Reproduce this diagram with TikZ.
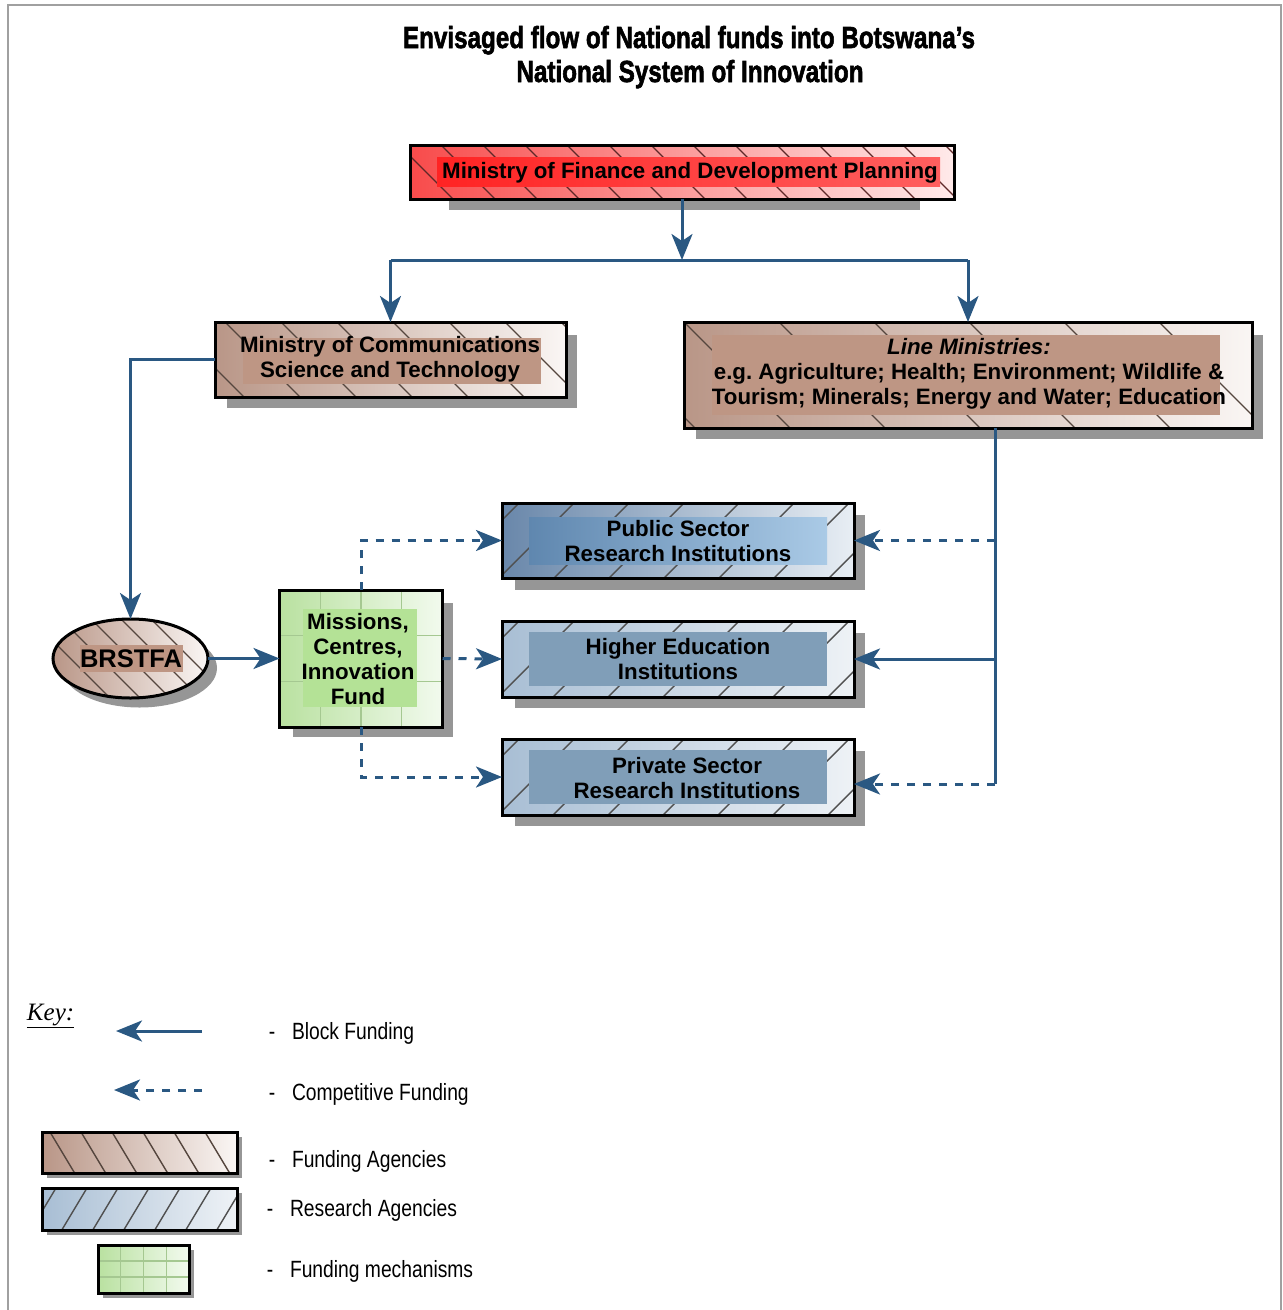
\documentclass[tikz,border=0pt]{standalone}
\usepackage{fontspec}
\usepackage{graphicx}
\usetikzlibrary{arrows.meta,calc,shapes.geometric}
\setmainfont{Liberation Sans}
\newfontfamily\boxfont{Liberation Sans}
\IfFontExistsTF{Liberation Sans Narrow}{\newfontfamily\narrowfont{Liberation Sans Narrow}\newfontfamily\titlefont{Liberation Sans Narrow}[FakeBold=2.2]}{\newfontfamily\narrowfont{Liberation Sans}[FakeStretch=0.82]\newfontfamily\titlefont{Liberation Sans}[FakeBold=2.2]}
\newfontfamily\keyserif{Liberation Serif}
\frenchspacing

\definecolor{conn}{RGB}{42,88,130}
\definecolor{shadowgray}{RGB}{150,150,150}
\definecolor{framegray}{RGB}{160,160,160}
\definecolor{mofL}{RGB}{248,75,75}
\definecolor{mofR}{RGB}{255,234,234}
\definecolor{mofbandL}{RGB}{255,35,35}
\definecolor{mofbandR}{RGB}{255,95,95}
\definecolor{mofhatch}{RGB}{95,40,40}
\definecolor{fundL}{RGB}{185,150,135}
\definecolor{fundR}{RGB}{250,246,244}
\definecolor{fundband}{RGB}{190,150,132}
\definecolor{fundhatch}{RGB}{85,70,62}
\definecolor{pubL}{RGB}{105,135,170}
\definecolor{pubR}{RGB}{232,238,244}
\definecolor{pubbandL}{RGB}{95,135,175}
\definecolor{pubbandR}{RGB}{170,202,230}
\definecolor{resL}{RGB}{168,190,212}
\definecolor{resR}{RGB}{238,242,246}
\definecolor{resband}{RGB}{128,158,184}
\definecolor{reshatch}{RGB}{80,80,80}
\definecolor{greenL}{RGB}{185,225,160}
\definecolor{greenR}{RGB}{242,250,238}
\definecolor{greenband}{RGB}{180,226,150}
\definecolor{greengridcol}{RGB}{165,200,145}

\tikzset{
  every node/.style={inner sep=0pt, outer sep=0pt},
  hsp/.store in=\hsp, hsp=40,
  hsl/.store in=\hsl, hsl=1,
  hoff/.store in=\hoff, hoff=0,
  bnd/.style n args={4}{/utils/exec={\def\bl{#1}\def\bt{#2}\def\br{#3}\def\bb{#4}}},
  bnd={0}{0}{0}{0},
  bandfill/.style={fill=fundband},
  hatchcol/.style={draw=fundhatch},
  boxbase/.style={rectangle, draw=black, line width=3pt},
  hatchdown/.style={path picture={
     \foreach \k in {-14,...,24} {
        \draw[hatchcol, line width=1.4pt] ($(path picture bounding box.north west)+(\hoff*1pt+\k*\hsp*1pt,0pt)$) -- ++(\hsl*150pt,-150pt);
     }
     \fill[bandfill] ($(path picture bounding box.north west)+(\bl*1pt,-\bt*1pt)$) rectangle ($(path picture bounding box.south east)+(-\br*1pt,\bb*1pt)$);
  }},
  hatchup/.style={path picture={
     \foreach \k in {-14,...,24} {
        \draw[hatchcol, line width=1.4pt] ($(path picture bounding box.north west)+(\hoff*1pt+\k*\hsp*1pt,0pt)$) -- ++(-\hsl*150pt,-150pt);
     }
     \fill[bandfill] ($(path picture bounding box.north west)+(\bl*1pt,-\bt*1pt)$) rectangle ($(path picture bounding box.south east)+(-\br*1pt,\bb*1pt)$);
  }},
  greengrid/.style={path picture={
     \foreach \f in {0.25,0.5,0.75}
        \draw[greengridcol, line width=1.3pt] ($(path picture bounding box.south west)!\f!(path picture bounding box.south east)$) -- ($(path picture bounding box.north west)!\f!(path picture bounding box.north east)$);
     \foreach \f in {0.3333,0.6667}
        \draw[greengridcol, line width=1.3pt] ($(path picture bounding box.south west)!\f!(path picture bounding box.north west)$) -- ($(path picture bounding box.south east)!\f!(path picture bounding box.north east)$);
     \fill[bandfill] ($(path picture bounding box.north west)+(\bl*1pt,-\bt*1pt)$) rectangle ($(path picture bounding box.south east)+(-\br*1pt,\bb*1pt)$);
  }},
  fundbox/.style={boxbase, left color=fundL, right color=fundR, hatchdown},
  resbox/.style={boxbase, left color=resL, right color=resR, hatchup, hatchcol/.style={draw=reshatch}, bandfill/.style={fill=resband}},
  greenbox/.style={boxbase, left color=greenL, right color=greenR, greengrid, bandfill/.style={fill=greenband}},
  shadowfill/.style={fill=shadowgray},
  boxtext/.style={font=\boxfont\bfseries\fontsize{22.3}{25}\selectfont, align=center, text=black},
  keytext/.style={font=\narrowfont\fontsize{23.5}{28}\selectfont, anchor=base west},
  keydash/.style={font=\narrowfont\fontsize{23.5}{28}\selectfont, anchor=base},
  titletext/.style={font=\titlefont\bfseries\fontsize{30.5}{36}\selectfont, anchor=base},
  blockline/.style={draw=conn, line width=3pt},
  blockarrow/.style={draw=conn, line width=3pt, -{Stealth[length=26pt,width=21pt,inset=7pt]}},
  comparrow/.style={blockarrow, dash pattern=on 8pt off 8pt},
}

\begin{document}
\begin{tikzpicture}[x=1pt,y=-1pt]
\useasboundingbox (0,0) rectangle (1283,1310);
\draw[framegray, line width=2.5pt] (8,1330) -- (8,5) -- (1281,5) -- (1281,1330);

% title
\node[titletext] (title1) at (689,48) {\resizebox{572pt}{\height}{Envisaged flow of National funds into Botswana’s}};
\node[titletext] (title2) at (690,82) {\resizebox{347pt}{\height}{National System of Innovation}};

% shadows
\fill[shadowfill] (449,170) rectangle (920,210);
\fill[shadowfill] (227,335) rectangle (577,408);
\fill[shadowfill] (696,335) rectangle (1263,439);
\fill[shadowfill] (515,515) rectangle (865,590);
\fill[shadowfill] (515,633) rectangle (865,708);
\fill[shadowfill] (515,751) rectangle (865,826);
\fill[shadowfill] (293,603) rectangle (453,737);
\fill[shadowfill] (139.5,668) ellipse [x radius=77.5, y radius=39.5];
\fill[shadowfill] (47,1137) rectangle (242,1178);
\fill[shadowfill] (47,1193) rectangle (242,1235);
\fill[shadowfill] (103,1250) rectangle (194,1298);

% boxes
\node[boxbase, left color=mofL, right color=mofR, hatchdown, hatchcol/.style={draw=mofhatch},
      bandfill/.style={left color=mofbandL, right color=mofbandR},
      hsp=42, hoff=31, bnd={27}{12}{14}{13},
      minimum width=544pt, minimum height=54pt] (mof) at (682,172) {};
\node[boxtext] (mof-t) at (690,172.5) {Ministry of Finance and Development Planning};

\node[fundbox, hsp=56, hoff=10, bnd={28}{16}{25}{13},
      minimum width=351pt, minimum height=75pt] (mcst) at (390.5,359.5) {};
\node[boxtext] (mcst-t) at (390,359.5) {Ministry of Communications\\Science and Technology};

\node[fundbox, hsp=95, hoff=0, bnd={28}{13}{32}{13},
      minimum width=568pt, minimum height=106pt] (line) at (968,375) {};
\node[boxtext] (line-t) at (969,374) {\textit{Line Ministries:}\\e.g.\ Agriculture; Health; Environment; Wildlife \&\\Tourism; Minerals; Energy and Water; Education};

\node[ellipse, draw=black, line width=3pt, left color=fundL, right color=fundR, hatchdown,
      hsp=30, hoff=8, bnd={27}{26}{25}{26},
      minimum width=155pt, minimum height=79pt] (brstfa) at (130.5,658.5) {};
\node[boxtext, font=\boxfont\bfseries\fontsize{25.5}{28}\selectfont] (brstfa-t) at (131,659) {BRSTFA};

\node[greenbox, bnd={23}{19}{26}{20},
      minimum width=163pt, minimum height=137pt] (miss) at (361,658.5) {};
\node[boxtext] (miss-t) at (358,659) {Missions,\\Centres,\\Innovation\\Fund};

\node[resbox, left color=pubL, right color=pubR, bandfill/.style={left color=pubbandL, right color=pubbandR},
      hsp=55, hoff=17, bnd={27}{14}{27}{14},
      minimum width=352pt, minimum height=75pt] (pub) at (678,540.5) {};
\node[boxtext] (pub-t) at (678,541.5) {Public Sector\\Research Institutions};

\node[resbox, hsp=55, hoff=17, bnd={27}{11}{27}{11},
      minimum width=352pt, minimum height=76pt] (hei) at (678,659) {};
\node[boxtext] (hei-t) at (678,659.5) {Higher Education\\Institutions};

\node[resbox, hsp=55, hoff=17, bnd={27}{11}{27}{11},
      minimum width=352pt, minimum height=76pt] (priv) at (678,777) {};
\node[boxtext] (priv-t) at (687,778) {Private Sector\\Research Institutions};

% connectors
\coordinate (split) at (682,260);
\coordinate (rbus) at (995,428);
\coordinate (rend) at (995,784);
\draw[blockarrow] (mof.south) -- (split);
\draw[blockline] (mcst.north |- split) -- (line.north |- split);
\draw[blockarrow] (mcst.north |- split) -- (mcst.north);
\draw[blockarrow] (line.north |- split) -- (line.north);
\draw[blockarrow] (mcst.west) -| (brstfa.north);
\draw[blockarrow] (brstfa.east) -- (miss.west);
\draw[comparrow] (miss.north) |- (pub.west);
\draw[comparrow] (miss.east) -- (hei.west);
\draw[comparrow] (miss.south) |- (priv.west);
\draw[blockline] (rbus) -- (rend);
\draw[comparrow] (pub.east -| rbus) -- (pub.east);
\draw[blockarrow] (hei.east -| rbus) -- (hei.east);
\draw[comparrow] (rend) -- (rend -| priv.east);

% key
\node[anchor=base west, font=\keyserif\itshape\fontsize{25}{28}\selectfont] (keyhead) at (27,1020) {\underline{Key:}};
\coordinate (kb1) at (202,1031);
\coordinate (kb2) at (116,1031);
\coordinate (kc1) at (202,1090);
\coordinate (kc2) at (114,1090);
\draw[blockarrow] (kb1) -- (kb2);
\draw[comparrow] (kc1) -- (kc2);

\node[fundbox, hsp=31, hoff=8, hsl=0.6, bandfill/.style={fill=none},
      minimum width=195pt, minimum height=41pt] (kfund) at (139.5,1152.5) {};
\node[resbox, hsp=31, hoff=14, hsl=0.6, bandfill/.style={fill=none},
      minimum width=195pt, minimum height=42pt] (kres) at (139.5,1209) {};
\node[greenbox, bandfill/.style={fill=none},
      minimum width=91pt, minimum height=48pt] (kgreen) at (143.5,1269) {};

\node[keydash] (d1) at (272,1039) {-};
\node[keytext] (l1) at (292,1039) {Block Funding};
\node[keydash] (d2) at (272,1100) {-};
\node[keytext] (l2) at (292,1100) {Competitive Funding};
\node[keydash] (d3) at (272,1167) {-};
\node[keytext] (l3) at (292,1167) {Funding Agencies};
\node[keydash] (d4) at (270,1216) {-};
\node[keytext] (l4) at (290,1216) {Research Agencies};
\node[keydash] (d5) at (270,1277) {-};
\node[keytext] (l5) at (290,1277) {Funding mechanisms};
\end{tikzpicture}
\end{document}
